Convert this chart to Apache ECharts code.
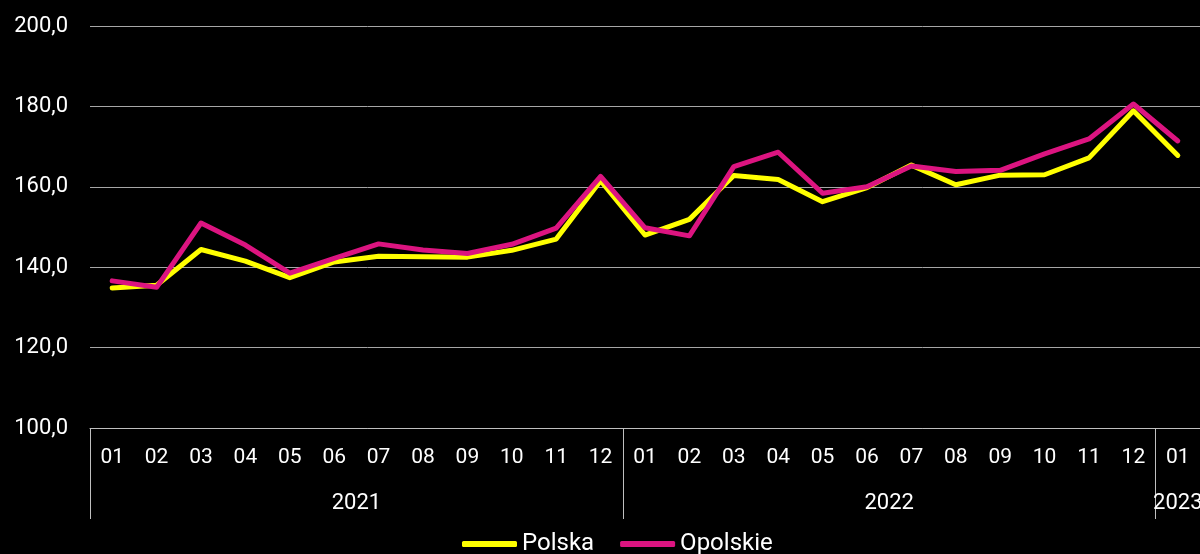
<!DOCTYPE html>
<html>
<head>
<meta charset="utf-8">
<script src="https://cdn.jsdelivr.net/npm/echarts@6/dist/echarts.min.js"></script>
<style>
html,body{margin:0;padding:0;background:#000;}
#chart{width:1200px;height:554px;}
</style>
</head>
<body>
<div id="chart"></div>
<script>
const months = ['01','02','03','04','05','06','07','08','09','10','11','12',
                '01','02','03','04','05','06','07','08','09','10','11','12','01'];
const years = ['2021','2022','2023'];
const yearCenters = [6, 18, 24.5];
const yearBounds = [0, 12, 24, 25];
const polska = [134.8,135.5,144.4,141.5,137.4,141.3,142.7,142.6,142.5,144.2,147.0,161.5,
                148.0,151.9,162.8,161.8,156.3,159.8,165.4,160.5,162.9,163.0,167.2,178.9,167.8];
const opolskie = [136.6,135.0,151.0,145.5,138.5,142.2,145.8,144.3,143.4,145.7,149.7,162.6,
                  149.8,147.8,165.0,168.6,158.4,160.0,165.2,163.8,164.1,168.2,171.9,180.6,171.4];
const yTicks = {min:100, max:200, step:20};

const FONT = 'Roboto';
const chart = echarts.init(document.getElementById('chart'));
chart.setOption({
  backgroundColor:'#000',
  animation:false,
  textStyle:{fontFamily:FONT},
  grid:{left:90, right:0, top:26, bottom:126, containLabel:false, outerBoundsMode:'none'},
  legend:{
    top:532, left:462, padding:0,
    itemWidth:55, itemHeight:6, itemGap:26,
    icon:'roundRect',
    textStyle:{color:'#fff', fontSize:24, fontFamily:FONT, padding:[0,0,0,0]},
    data:['Polska','Opolskie']
  },
  xAxis:[{
    type:'category', data:months, boundaryGap:true,
    axisLine:{show:true, lineStyle:{color:'#bfbfbf', width:1}},
    axisTick:{show:false},
    axisLabel:{color:'#fff', fontSize:21, margin:19, interval:0},
    splitLine:{show:false}
  },{
    type:'value', min:0, max:25, position:'bottom',
    axisLine:{show:false},
    axisTick:{show:true, customValues:yearBounds, length:91, lineStyle:{color:'#bfbfbf', width:1}},
    axisLabel:{color:'#fff', fontSize:22, margin:64, customValues:yearCenters,
      formatter:function(v){ const i = yearCenters.indexOf(v); return i>=0 ? years[i] : ''; }},
    splitLine:{show:false}
  }],
  yAxis:{
    type:'value', min:yTicks.min, max:yTicks.max, interval:yTicks.step,
    axisLine:{show:false}, axisTick:{show:false},
    axisLabel:{color:'#fff', fontSize:22, margin:22,
      formatter:function(v){ return v.toFixed(1).replace('.', ','); }},
    splitLine:{show:true, lineStyle:{color:'#a6a6a6', width:1}}
  },
  series:[{
    name:'Polska', type:'line', data:polska, xAxisIndex:0,
    showSymbol:false, symbol:'none',
    lineStyle:{color:'#ffff00', width:5, cap:'round', join:'round'},
    itemStyle:{color:'#ffff00'}
  },{
    name:'Opolskie', type:'line', data:opolskie, xAxisIndex:0,
    showSymbol:false, symbol:'none',
    lineStyle:{color:'#dc1480', width:5, cap:'round', join:'round'},
    itemStyle:{color:'#dc1480'}
  }]
});
</script>
</body>
</html>
